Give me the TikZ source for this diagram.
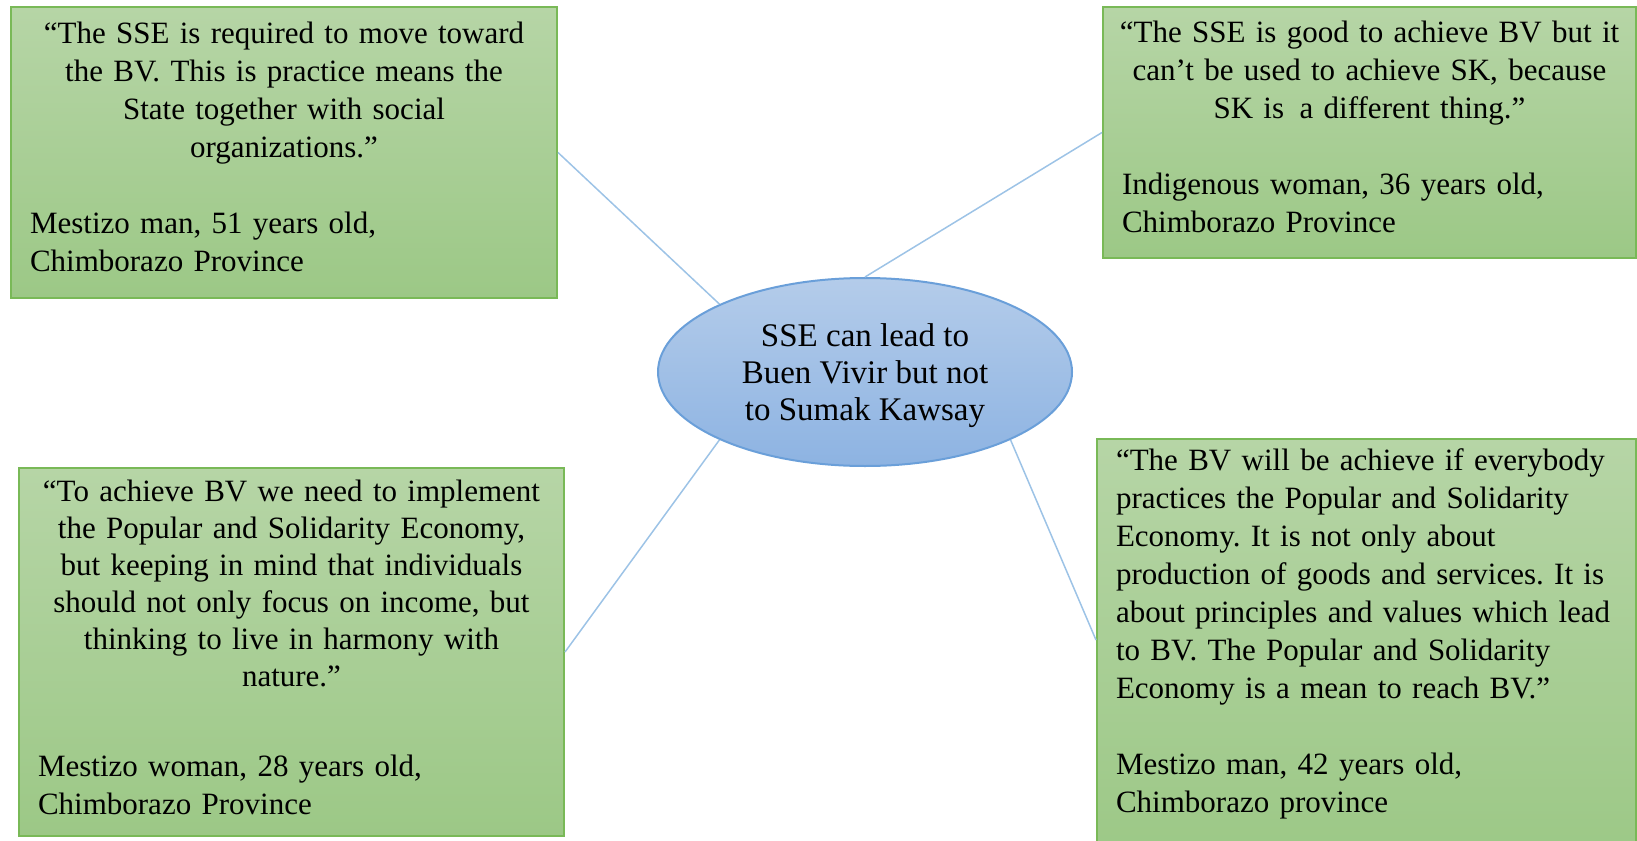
\documentclass[tikz,border=0pt]{standalone}
\usepackage{fontspec}
\setmainfont{Liberation Serif}
\usetikzlibrary{shapes.geometric}
\definecolor{gtop}{HTML}{B6D5A6}
\definecolor{gbot}{HTML}{9CC886}
\definecolor{gborder}{HTML}{79B957}
\definecolor{btop}{HTML}{B4CCEA}
\definecolor{bbot}{HTML}{8DB3E2}
\definecolor{bborder}{HTML}{6A9FD9}
\definecolor{linkc}{HTML}{9DC3E6}
\newcommand{\lpad}{\leftskip=14pt\relax}
\newcommand{\tailpad}[1]{\par\nointerlineskip\rule{0pt}{#1}\par}
\begin{document}
\frenchspacing
\begin{tikzpicture}[x=1pt,y=-1pt,
  box/.style={draw=gborder, line width=2pt, top color=gtop, bottom color=gbot,
    inner xsep=5pt, inner ysep=0pt, font=\fontsize{31}{38}\selectfont,
    align=left, anchor=north west},
  ell/.style={ellipse, draw=bborder, line width=2pt, top color=btop, bottom color=bbot,
    minimum width=414pt, minimum height=188pt, inner sep=0pt},
  elltext/.style={inner sep=0pt, font=\fontsize{33}{37}\selectfont, align=center},
  link/.style={draw=linkc, line width=1.5pt}]
\useasboundingbox (0,0) rectangle (1637,840);

\node[box, minimum width=546pt, minimum height=291pt, text width=536pt] (b1) at (10,6)
  {\centering “The SSE is required to move toward\\ the BV. This is practice means the\\ State together with social\\ organizations.”\par
   \vspace{38pt}\raggedright\lpad Mestizo man, 51 years old,\\ Chimborazo Province\tailpad{12pt}};

\node[box, minimum width=533pt, minimum height=251pt, text width=523pt] (b2) at (1102,6)
  {\centering “The SSE is good to achieve BV but it\\ can’t be used to achieve SK, because\\ SK is\, a different thing.”\par
   \vspace{38pt}\raggedright\lpad Indigenous woman, 36 years old,\\ Chimborazo Province\tailpad{12pt}};

\node[box, minimum width=545pt, minimum height=368pt, text width=535pt] (b3) at (18,467)
  {\baselineskip=37pt\centering “To achieve BV we need to implement\\ the Popular and Solidarity Economy,\\ but keeping in mind that individuals\\ should not only focus on income, but\\ thinking to live in harmony with\\ nature.”\par
   \vspace{52pt}\baselineskip=38pt\raggedright\lpad Mestizo woman, 28 years old,\\ Chimborazo Province\tailpad{10pt}};

\node[box, minimum width=539pt, minimum height=420pt, text width=529pt] (b4) at (1096,438)
  {\raggedright\lpad “The BV will be achieve if everybody\\ practices the Popular and Solidarity\\ Economy. It is not only about\\ production of goods and services. It is\\ about principles and values which lead\\ to BV. The Popular and Solidarity\\ Economy is a mean to reach BV.”\par
   \vspace{38pt}Mestizo man, 42 years old,\\ Chimborazo province\tailpad{30pt}};

\node[ell] (e) at (865,372) {};
\node[elltext] (et) at ([yshift=-3.5pt]e.center) {SSE can lead to\\ Buen Vivir but not\\ to Sumak Kawsay};

\draw[link] (b1.east) -- (e.155);
\draw[link] (e.north) -- (b2.west);
\draw[link] (e.205) -- (b3.east);
\draw[link] (e.-25) -- ([yshift=9pt]b4.west);
\end{tikzpicture}
\end{document}
